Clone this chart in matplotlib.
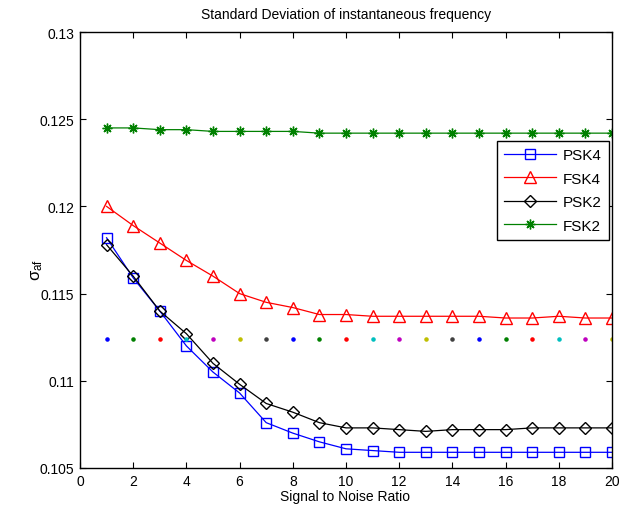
import matplotlib
matplotlib.use("Agg")
import matplotlib.pyplot as plt
import numpy as np

plt.rcParams['font.family'] = ['Liberation Sans', 'DejaVu Sans']
plt.rcParams['mathtext.fontset'] = 'custom'
plt.rcParams['mathtext.rm'] = 'Liberation Sans'
plt.rcParams['mathtext.it'] = 'Liberation Sans'

snr = list(range(1, 21))
psk4 = [0.1182, 0.1159, 0.1140, 0.1120, 0.1105, 0.1093, 0.1076, 0.1070, 0.1065, 0.1061,
        0.1060, 0.1059, 0.1059, 0.1059, 0.1059, 0.1059, 0.1059, 0.1059, 0.1059, 0.1059]
fsk4 = [0.1200, 0.1189, 0.1179, 0.1169, 0.1160, 0.1150, 0.1145, 0.1142, 0.1138, 0.1138,
        0.1137, 0.1137, 0.1137, 0.1137, 0.1137, 0.1136, 0.1136, 0.1137, 0.1136, 0.1136]
psk2 = [0.1178, 0.1160, 0.1140, 0.1127, 0.1110, 0.1098, 0.1087, 0.1082, 0.1076, 0.1073,
        0.1073, 0.1072, 0.1071, 0.1072, 0.1072, 0.1072, 0.1073, 0.1073, 0.1073, 0.1073]
fsk2 = [0.1245, 0.1245, 0.1244, 0.1244, 0.1243, 0.1243, 0.1243, 0.1243, 0.1242, 0.1242,
        0.1242, 0.1242, 0.1242, 0.1242, 0.1242, 0.1242, 0.1242, 0.1242, 0.1242, 0.1242]
threshold = [0.1124] * 20
dot_colors = ['#0000ff', '#008000', '#ff0000', '#00bfbf', '#bf00bf', '#bfbf00', '#404040']

fig = plt.figure(figsize=(6.22, 5.06), dpi=100)
ax = fig.add_axes([80/622, 1-469/506, 532/622, (469-33)/506])

ax.plot(snr, psk4, color='#0000ff', lw=0.9, marker='s', ms=7.5, mfc='none', mew=1.0, label='PSK4')
ax.plot(snr, fsk4, color='#ff0000', lw=0.9, marker='^', ms=8.5, mfc='none', mew=1.0, label='FSK4')
ax.plot(snr, psk2, color='black', lw=0.9, marker='D', ms=6.5, mfc='none', mew=1.0, label='PSK2')
ax.plot(snr, fsk2, color='#008000', lw=0.9, marker=(8, 2, 0), ms=7, mew=1.0, label='FSK2')
for i, (x, y) in enumerate(zip(snr, threshold)):
    ax.plot([x], [y], linestyle='none', marker='.', ms=4.5, color=dot_colors[i % 7])

ax.set_xlim(0, 20)
ax.set_ylim(0.105, 0.13)
ax.set_xticks(np.arange(0, 21, 2))
ax.set_yticks([0.105, 0.11, 0.115, 0.12, 0.125, 0.13])
ax.set_yticklabels(['0.105', '0.11', '0.115', '0.12', '0.125', '0.13'])
ax.tick_params(direction='in', top=True, right=True, length=4, width=0.8, labelsize=10, pad=4)
for s in ax.spines.values():
    s.set_linewidth(1.0)

ax.set_title('Standard Deviation of instantaneous frequency', fontsize=10, pad=10)
fig.text(345/622, 1-497/506, 'Signal to Noise Ratio', ha='center', va='center', fontsize=10)
fig.text(37/622, 1-270/506, r'$\sigma_{\mathrm{af}}$', ha='center', va='center', rotation=90, fontsize=12)

leg = ax.legend(loc='upper right', bbox_to_anchor=(0.994, 0.749), fontsize=11, frameon=True,
                fancybox=False, edgecolor='black', framealpha=1, handlelength=3.4,
                borderpad=0.45, labelspacing=0.62, handletextpad=0.45, borderaxespad=0)
leg.get_frame().set_linewidth(1.0)

fig.savefig('out.png', dpi=100)
